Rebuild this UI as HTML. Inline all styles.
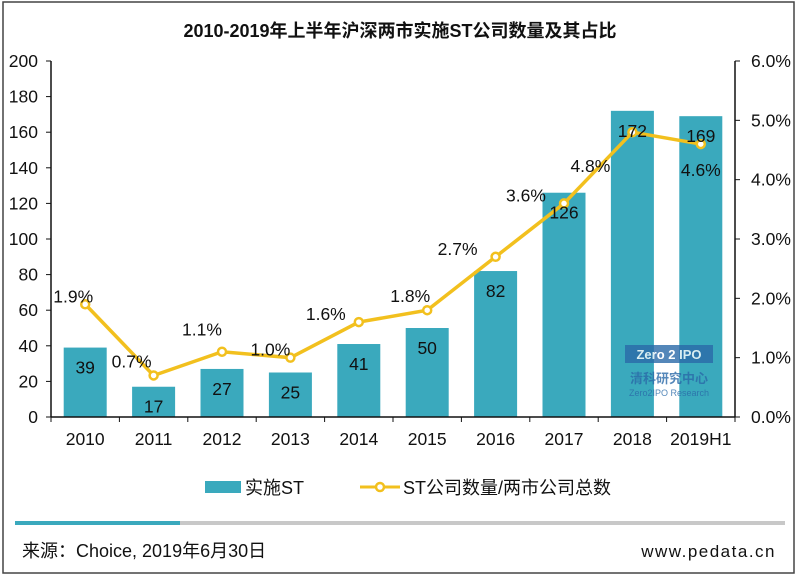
<!DOCTYPE html>
<html><head><meta charset="utf-8"><style>
body{margin:0;background:#fff;}
svg text{font-family:"Liberation Sans","Noto Sans CJK SC",sans-serif;}
</style></head><body>
<svg id="c" width="800" height="575" xmlns="http://www.w3.org/2000/svg">
<rect x="3" y="2" width="791" height="571" fill="#fff" stroke="#444" stroke-width="1.5"/>
<text x="400" y="37" text-anchor="middle" font-size="18" font-weight="bold" fill="#111">2010-2019年上半年沪深两市实施ST公司数量及其占比</text>
<g id="plot"></g>
<rect x="205" y="481" width="36" height="12" fill="#3aa9bd"/>
<text x="245" y="494" font-size="18" fill="#111">实施ST</text>
<line x1="360" y1="487" x2="400" y2="487" stroke="#f2c01e" stroke-width="3"/>
<circle cx="380" cy="487" r="4" fill="#fff" stroke="#f2c01e" stroke-width="2.5"/>
<text x="403" y="494" font-size="18" fill="#111">ST公司数量/两市公司总数</text>
<rect x="15" y="521" width="770" height="4" fill="#c8c8c8"/>
<rect x="15" y="521" width="165" height="4" fill="#3aa9bd"/>
<text x="22" y="557" font-size="18" fill="#111" font-family="Liberation Serif,Noto Serif CJK SC,serif">来源：Choice, 2019年6月30日</text>
<text x="776" y="557" text-anchor="end" font-size="17" letter-spacing="1.5" fill="#111">www.pedata.cn</text>
<g opacity="0.8">
<rect x="625" y="345" width="88" height="18" fill="#2a6aa8"/>
<text x="669" y="359" text-anchor="middle" font-size="13" font-weight="bold" fill="#fff">Zero 2 IPO</text>
<text x="669" y="383" text-anchor="middle" font-size="13" font-weight="bold" fill="#2a6aa8">清科研究中心</text>
<text x="669" y="396" text-anchor="middle" font-size="9" fill="#2a6aa8">Zero2IPO Research</text>
</g>
</svg>
<script>
const categories=["2010","2011","2012","2013","2014","2015","2016","2017","2018","2019H1"];
const counts=[39,17,27,25,41,50,82,126,172,169];
const ratios=[1.9,0.7,1.1,1.0,1.6,1.8,2.7,3.6,4.8,4.6];
const leftTicks=[0,20,40,60,80,100,120,140,160,180,200];
const rightTicks=[0,1,2,3,4,5,6];
const labelDx=[-12,-22,-20,-20,-33,-17,-38,-38,-42,0];
const labelDy=[-2,-8,-16,-2,-2,-8,-2,-2,40,32];
const NS="http://www.w3.org/2000/svg";
const L=51,R=735,T=61,B=417;
const step=(R-L)/categories.length;
const xc=i=>L+step*(i+0.5);
const yl=v=>B-(v/200)*(B-T);
const yr=v=>B-(v/6)*(B-T);
const g=document.getElementById('plot');
function mk(tag,a){const e=document.createElementNS(NS,tag);for(const k in a)e.setAttribute(k,a[k]);g.appendChild(e);return e;}
counts.forEach((v,i)=>{
 const r=mk('rect',{x:xc(i)-21.5,y:yl(v),width:43,height:B-yl(v),fill:'#3aa9bd'});
 
 
});
const ax=mk('line',{x1:L,y1:T,x2:L,y2:B,stroke:'#111','stroke-width':1.5});


const ax2=mk('line',{x1:R,y1:T,x2:R,y2:B,stroke:'#111','stroke-width':1.5});


const ax3=mk('line',{x1:L,y1:B,x2:R,y2:B,stroke:'#111','stroke-width':1.5});


leftTicks.forEach(v=>{
 mk('line',{x1:L-5,y1:yl(v),x2:L,y2:yl(v),stroke:'#111'});
 const t=mk('text',{x:L-13,y:yl(v)+6,'text-anchor':'end','font-size':17.5,fill:'#111'});t.textContent=v;
 
 
});
rightTicks.forEach(v=>{
 mk('line',{x1:R,y1:yr(v),x2:R+5,y2:yr(v),stroke:'#111'});
 const t=mk('text',{x:R+16,y:yr(v)+6,'font-size':17.5,fill:'#111'});t.textContent=v.toFixed(1)+'%';
 
 
});
for(let i=0;i<=categories.length;i++){mk('line',{x1:L+step*i,y1:B,x2:L+step*i,y2:B+5,stroke:'#111'});}
categories.forEach((c,i)=>{
 const t=mk('text',{x:xc(i),y:B+28,'text-anchor':'middle','font-size':17.5,fill:'#111'});t.textContent=c;
 
 
});
const pts=ratios.map((v,i)=>xc(i)+','+yr(v)).join(' ');
const pl=mk('polyline',{points:pts,fill:'none',stroke:'#f2c01e','stroke-width':3.5});


ratios.forEach((v,i)=>{
 const c=mk('circle',{cx:xc(i),cy:yr(v),r:4,fill:'#fff',stroke:'#f2c01e','stroke-width':2.5});
 
 
});
counts.forEach((v,i)=>{
 const t=mk('text',{x:xc(i),y:yl(v)+26,'text-anchor':'middle','font-size':17.5,fill:'#111'});t.textContent=v;
 
 
});
ratios.forEach((v,i)=>{
 const t=mk('text',{x:xc(i)+labelDx[i],y:yr(v)+labelDy[i],'text-anchor':'middle','font-size':17.5,fill:'#111'});t.textContent=v.toFixed(1)+'%';
 
 
});
</script>
</body></html>
